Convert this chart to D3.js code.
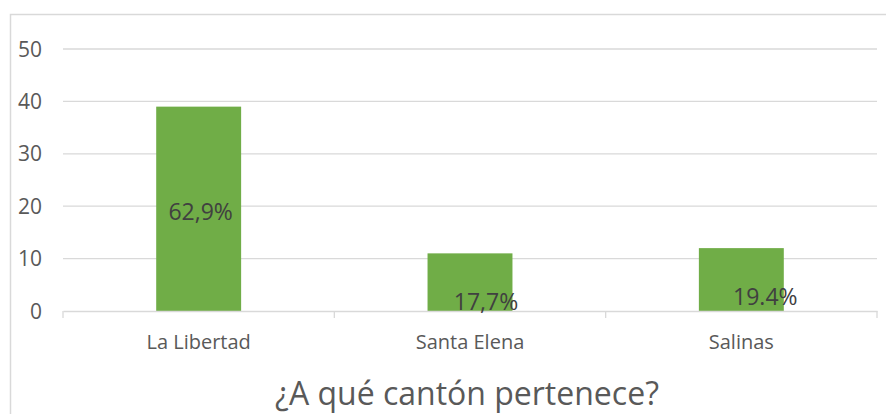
<!DOCTYPE html>
<html>
<head>
<meta charset="utf-8">
<script src="https://cdn.jsdelivr.net/npm/d3@7"></script>
<style>
  body { margin: 0; background: #fff; }
  text { font-family: "Open Sans", "Noto Sans", sans-serif; }
</style>
</head>
<body>
<svg width="886" height="414"></svg>
<script>
var categories = ["La Libertad", "Santa Elena", "Salinas"];
var counts = [39, 11, 12];
var pctLabels = ["62,9%", "17,7%", "19.4%"];
var yTicks = [0, 10, 20, 30, 40, 50];
var title = "¿A qué cantón pertenece?";

// where the percent labels sit (value on y scale, x offset from bar centre)
var labelAt = [{ v: 18.9, dx: 2 }, { v: 1.7, dx: 16 }, { v: 2.7, dx: 24 }];

var svg = d3.select("svg"),
    margin = { top: 49, right: 9, bottom: 103, left: 63 },
    width = +svg.attr("width") - margin.left - margin.right,
    height = +svg.attr("height") - margin.top - margin.bottom;

// chart frame (runs off the right edge / bottom)
svg.append("rect")
    .attr("x", 10.5).attr("y", 14.5)
    .attr("width", 900).attr("height", 420)
    .attr("fill", "none")
    .attr("stroke", "#d9d9d9")
    .attr("stroke-width", 1.5);

var g = svg.append("g").attr("transform", "translate(" + margin.left + "," + margin.top + ")");

var x = d3.scaleBand()
    .domain(categories)
    .range([0, width])
    .paddingInner(0.687)
    .paddingOuter(0.3435);

var y = d3.scaleLinear()
    .domain([0, 50])
    .range([height, 0]);

// gridlines
g.append("g")
    .selectAll("line")
    .data(yTicks.filter(d => d > 0))
    .enter().append("line")
    .attr("x1", 0).attr("x2", width)
    .attr("y1", d => y(d)).attr("y2", d => y(d))
    .attr("stroke", "#d9d9d9")
    .attr("stroke-width", 1.3);

// y labels
g.append("g")
    .selectAll("text")
    .data(yTicks)
    .enter().append("text")
    .attr("x", -21)
    .attr("y", d => y(d))
    .attr("dy", "0.36em")
    .attr("text-anchor", "end")
    .attr("fill", "#595959")
    .attr("font-size", 21)
    .text(d => d);

// bars
g.selectAll(".bar")
    .data(counts)
    .enter().append("rect")
    .attr("class", "bar")
    .attr("x", (d, i) => x(categories[i]))
    .attr("y", d => y(d))
    .attr("width", x.bandwidth())
    .attr("height", d => height - y(d))
    .attr("fill", "#70ad47");

// x axis
var xAxis = g.append("g")
    .attr("transform", "translate(0," + height + ")")
    .call(d3.axisBottom(x).tickSize(0).tickPadding(24));
xAxis.select(".domain").attr("stroke", "#d9d9d9").attr("stroke-width", 1.3);
xAxis.selectAll("text")
    .attr("fill", "#595959")
    .attr("font-size", 20)
    .attr("font-family", "Open Sans, sans-serif");

// category boundary ticks
g.append("g")
    .selectAll("line")
    .data(d3.range(categories.length + 1).map(i => i * width / categories.length))
    .enter().append("line")
    .attr("x1", d => d).attr("x2", d => d)
    .attr("y1", height).attr("y2", height + 7)
    .attr("stroke", "#d9d9d9")
    .attr("stroke-width", 1.3);

// percent labels
g.selectAll(".lbl")
    .data(pctLabels)
    .enter().append("text")
    .attr("class", "lbl")
    .attr("x", (d, i) => x(categories[i]) + x.bandwidth() / 2 + labelAt[i].dx)
    .attr("y", (d, i) => y(labelAt[i].v))
    .attr("dy", "0.36em")
    .attr("text-anchor", "middle")
    .attr("fill", "#404040")
    .attr("font-size", 23)
    .text(d => d);

// title
svg.append("text")
    .attr("x", 467)
    .attr("y", 405)
    .attr("text-anchor", "middle")
    .attr("fill", "#595959")
    .attr("font-size", 32)
    .text(title);
</script>
</body>
</html>
